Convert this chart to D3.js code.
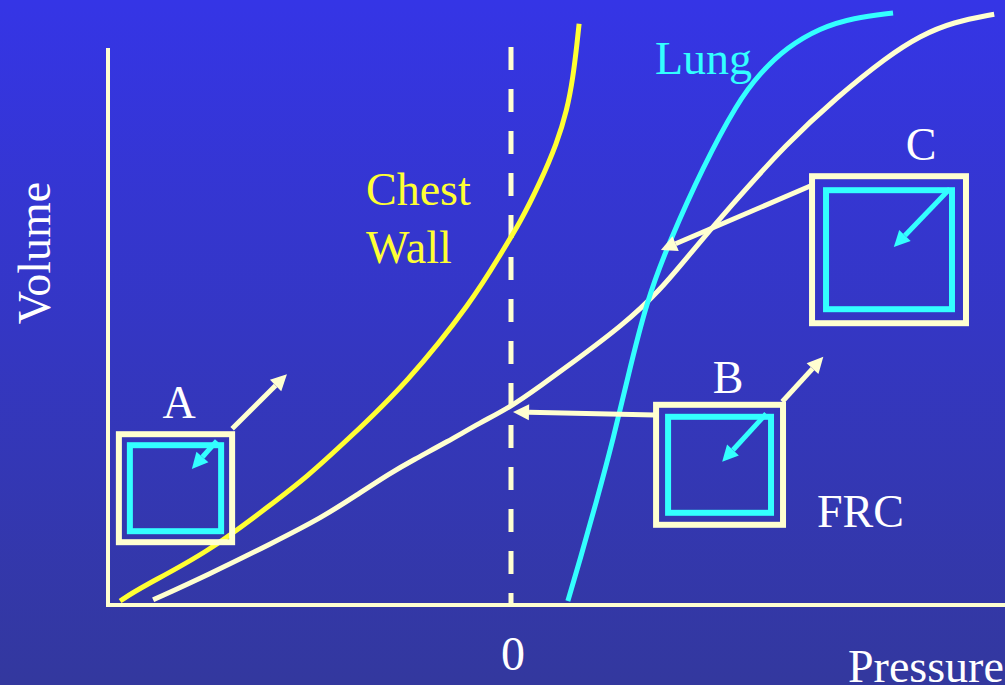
<!DOCTYPE html>
<html>
<head>
<meta charset="utf-8">
<script src="https://cdn.jsdelivr.net/npm/d3@7"></script>
<style>
  body { margin: 0; overflow: hidden; }
  text { font-family: "Liberation Serif", "Times New Roman", serif; }
</style>
</head>
<body>
<script>
// chest wall / lung / total system pressure-volume curves

var chestWall = [
  [-9.70, 0.5], [-9.21, 2.7], [-7.54, 8.5], [-5.91, 16.8], [-5.06, 21.2], [-4.07, 27.3],
  [-2.58, 36.8], [-0.94, 50.7], [-0.27, 58.2], [0.22, 63.5], [0.72, 70.2], [1.14, 76.8],
  [1.39, 82.3], [1.54, 87.8], [1.64, 93.5], [1.69, 96.7]
];
var lung = [
  [1.41, 0.5], [1.71, 7.3], [2.13, 17.3], [2.53, 27.3], [2.88, 37.3], [3.37, 50.7],
  [3.95, 60.7], [4.76, 72.8], [5.61, 83.5], [6.18, 88.5], [6.85, 92.8], [7.67, 96],
  [8.49, 97.7], [9.48, 98.5]
];
var total = [
  [-8.88, 0.7], [-7.54, 4.8], [-5.91, 10.2], [-4.67, 14.5], [-3.82, 18.2], [-3.0, 21.8],
  [-2.43, 24], [-1.59, 27], [-0.77, 30.2], [-0.02, 32.8], [0.72, 36.3], [1.54, 40.3],
  [2.78, 46.5], [3.7, 52.3], [4.37, 57.8], [5.43, 66.2], [6.85, 76.8], [8.09, 84.5],
  [9.33, 91.2], [10.15, 94.7], [10.97, 97], [11.99, 98.3]
];

// boxes: [p0, p1, v0, v1]
var boxNames = ['A', 'B', 'C'];
var boxes = [
  [-9.73, -6.92, 10.3, 28.3],
  [3.6, 6.75, 13.2, 33.2],
  [7.47, 11.29, 46.8, 71.3]
];
// arrows: from [p,v] to [p,v]
var cyanArrows = [
  [[-7.3, 27.2], [-7.92, 22.5]],
  [[6.33, 31.7], [5.24, 23.7]],
  [[10.89, 69.2], [9.5, 59.5]]
];
var creamArrows = [
  [[-6.92, 29.2], [-5.56, 38.3]],
  [[6.73, 33.7], [7.75, 41.2]],
  [[3.57, 31.5], [0.05, 32]],
  [[7.44, 69.7], [3.72, 59]]
];

var W = 1005, H = 685;
var cream = '#ffffd0', cyan = '#33ffff', yellow = '#ffff33';

var svg = d3.select('body').append('svg').attr('width', W).attr('height', H);

var grad = svg.append('defs').append('linearGradient')
  .attr('id', 'bg').attr('x1', 0).attr('y1', 0).attr('x2', 0).attr('y2', 1);
grad.append('stop').attr('offset', '0%').attr('stop-color', '#3535e6');
grad.append('stop').attr('offset', '100%').attr('stop-color', '#33389e');
svg.append('rect').attr('width', W).attr('height', H).attr('fill', 'url(#bg)');

var x = d3.scaleLinear().domain([-10, 10]).range([108, 914]);
var y = d3.scaleLinear().domain([0, 100]).range([604, 4]);

// axes
svg.append('line').attr('x1', x(-10)).attr('x2', x(-10)).attr('y1', 48).attr('y2', y(0) + 3)
  .attr('stroke', cream).attr('stroke-width', 4);
svg.append('line').attr('x1', x(-10)).attr('x2', W).attr('y1', y(0) + 1).attr('y2', y(0) + 1)
  .attr('stroke', cream).attr('stroke-width', 4);

// zero line
svg.append('line').attr('x1', x(0)).attr('x2', x(0)).attr('y1', 47).attr('y2', y(0))
  .attr('stroke', cream).attr('stroke-width', 5).attr('stroke-dasharray', '23,19');

var line = d3.line().x(function(d) { return x(d[0]); }).y(function(d) { return y(d[1]); })
  .curve(d3.curveBasis);

svg.append('path').attr('d', line(chestWall)).attr('fill', 'none').attr('stroke', yellow).attr('stroke-width', 5);
svg.append('path').attr('d', line(total)).attr('fill', 'none').attr('stroke', cream).attr('stroke-width', 5);
svg.append('path').attr('d', line(lung)).attr('fill', 'none').attr('stroke', cyan).attr('stroke-width', 5);

// boxes
var insets = [11, 12, 14];
boxes.forEach(function(b, i) {
  var bx = x(b[0]), by = y(b[3]), bw = x(b[1]) - x(b[0]), bh = y(b[2]) - y(b[3]);
  svg.append('rect').attr('x', bx).attr('y', by).attr('width', bw).attr('height', bh)
    .attr('fill', 'none').attr('stroke', cream).attr('stroke-width', 6);
  var k = insets[i];
  svg.append('rect').attr('x', bx + k).attr('y', by + k).attr('width', bw - 2 * k).attr('height', bh - 2 * k)
    .attr('fill', 'none').attr('stroke', cyan).attr('stroke-width', 6);
});

function arrow(a, color, w) {
  var x0 = x(a[0][0]), y0 = y(a[0][1]), x1 = x(a[1][0]), y1 = y(a[1][1]);
  var ang = Math.atan2(y1 - y0, x1 - x0);
  var len = 16, hw = 8;
  var bx = x1 - len * Math.cos(ang), by = y1 - len * Math.sin(ang);
  svg.append('line').attr('x1', x0).attr('y1', y0).attr('x2', bx).attr('y2', by)
    .attr('stroke', color).attr('stroke-width', w);
  var pts = [
    [x1, y1],
    [bx + hw * Math.sin(ang), by - hw * Math.cos(ang)],
    [bx - hw * Math.sin(ang), by + hw * Math.cos(ang)]
  ];
  svg.append('polygon').attr('points', pts.map(function(p) { return p.join(','); }).join(' '))
    .attr('fill', color);
}
cyanArrows.forEach(function(a) { arrow(a, cyan, 5); });
creamArrows.forEach(function(a) { arrow(a, cream, 5); });

// labels
var fs = 46;
svg.append('text').attr('x', 366).attr('y', 205).attr('fill', yellow).attr('font-size', fs).text('Chest');
svg.append('text').attr('x', 366).attr('y', 263).attr('fill', yellow).attr('font-size', fs).text('Wall');
svg.append('text').attr('x', 655).attr('y', 74).attr('fill', cyan).attr('font-size', fs).text('Lung');
svg.append('text').attr('x', 179).attr('y', 418).attr('fill', '#fff').attr('font-size', fs).attr('text-anchor', 'middle').text('A');
svg.append('text').attr('x', 728).attr('y', 393).attr('fill', '#fff').attr('font-size', fs).attr('text-anchor', 'middle').text('B');
svg.append('text').attr('x', 921).attr('y', 160).attr('fill', '#fff').attr('font-size', fs).attr('text-anchor', 'middle').text('C');
svg.append('text').attr('x', 817).attr('y', 527).attr('fill', '#fff').attr('font-size', fs).text('FRC');
svg.append('text').attr('x', x(0) + 2).attr('y', 670).attr('fill', '#fff').attr('font-size', 48).attr('text-anchor', 'middle').text('0');
svg.append('text').attr('x', 848).attr('y', 682).attr('fill', '#fff').attr('font-size', fs).text('Pressure');
svg.append('text').attr('transform', 'translate(50,253) rotate(-90)').attr('fill', '#fff')
  .attr('font-size', fs).attr('text-anchor', 'middle').text('Volume');
</script>
</body>
</html>
